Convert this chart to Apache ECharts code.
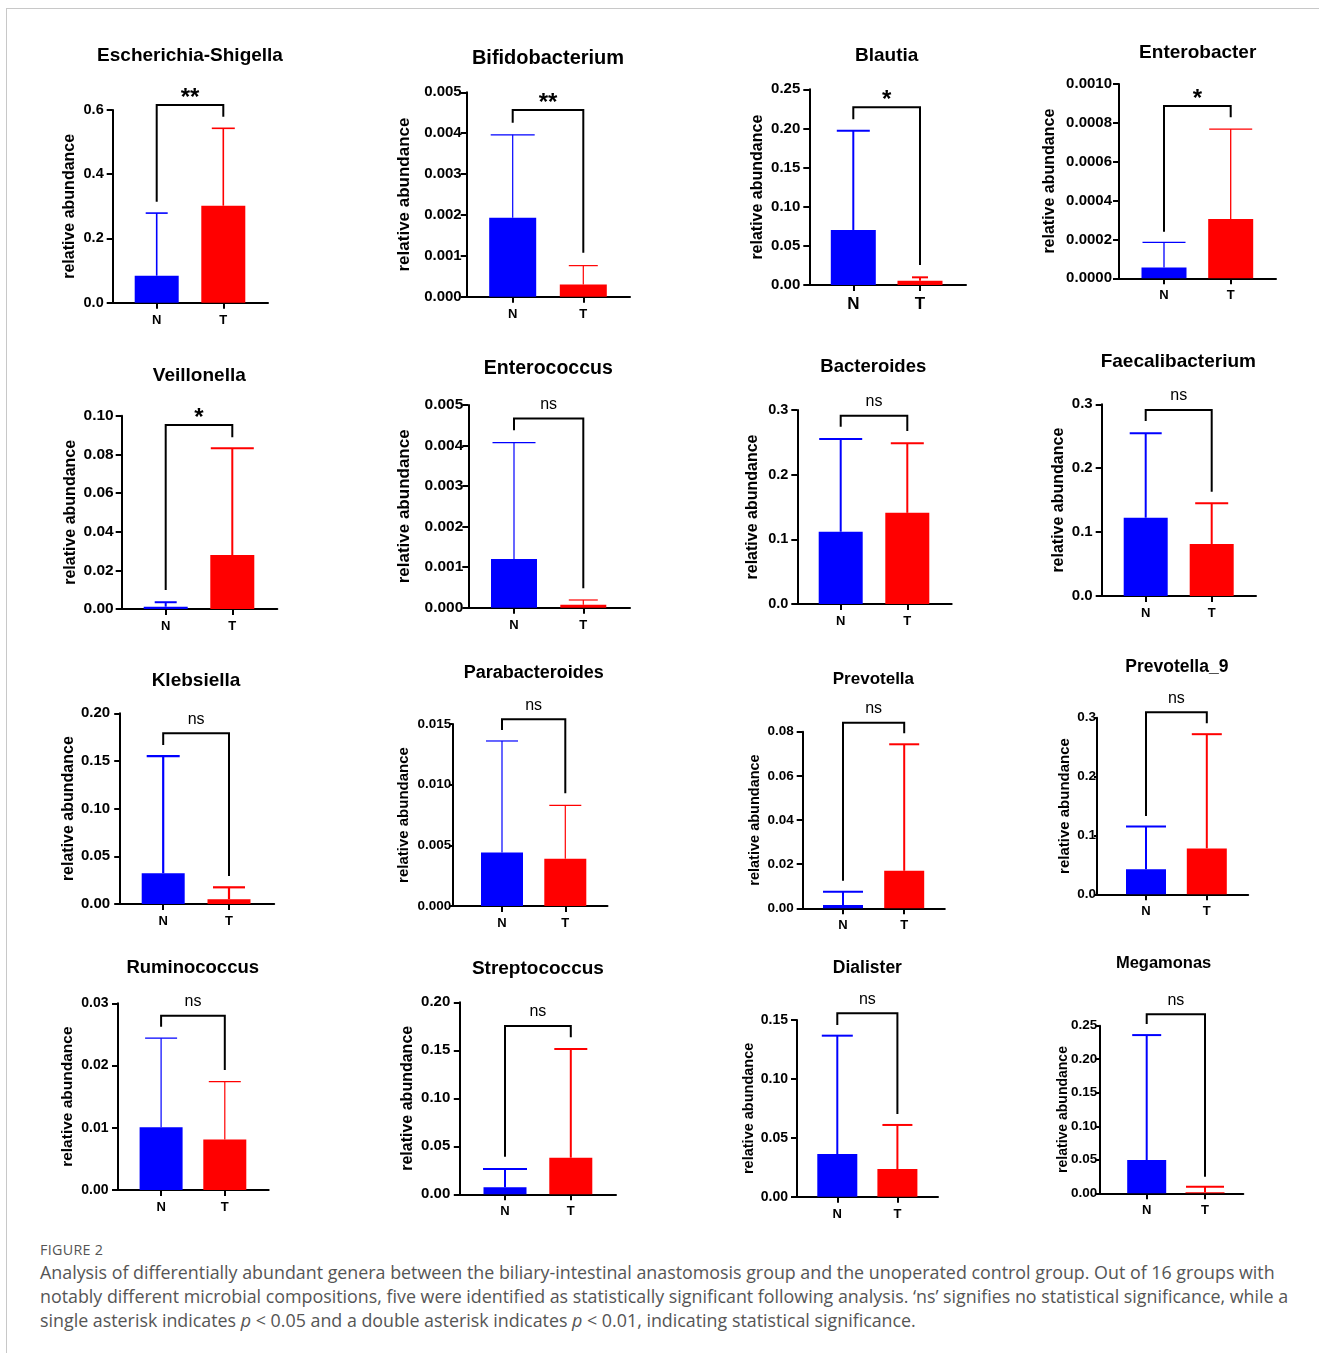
<!DOCTYPE html>
<html>
<head>
<meta charset="utf-8">
<script src="https://cdn.jsdelivr.net/npm/echarts@6/dist/echarts.min.js"></script>
<style>
	body { margin: 0; background: #fff; }
	#frame { position: absolute; left: 6px; top: 8px; width: 1313px; height: 1345px; border-top: 1px solid #c8c8c8; border-left: 1px solid #c8c8c8; }
	#main { position: absolute; left: 0; top: 0; width: 1319px; height: 1235px; }
	#figlabel { position: absolute; left: 40px; top: 1240px; font: 14.3px "Open Sans", sans-serif; color: #555; letter-spacing: 0.3px; }
	#caption { position: absolute; left: 40px; top: 1260px; font: 17.85px/24px "Open Sans", sans-serif; color: #555; white-space: nowrap; }
</style>
</head>
<body>
<div id="frame"></div>
<div id="main"></div>
<div id="figlabel">FIGURE 2</div>
<div id="caption">
	<div>Analysis of differentially abundant genera between the biliary-intestinal anastomosis group and the unoperated control group. Out of 16 groups with</div>
	<div>notably different microbial compositions, five were identified as statistically significant following analysis. ‘ns’ signifies no statistical significance, while a</div>
	<div>single asterisk indicates <i>p</i> &lt; 0.05 and a double asterisk indicates <i>p</i> &lt; 0.01, indicating statistical significance.</div>
</div>
<script>
	// ---- data ----
	var groups = ['N', 'T'];
	var genera = ['Escherichia-Shigella', 'Bifidobacterium', 'Blautia', 'Enterobacter',
		'Veillonella', 'Enterococcus', 'Bacteroides', 'Faecalibacterium',
		'Klebsiella', 'Parabacteroides', 'Prevotella', 'Prevotella_9',
		'Ruminococcus', 'Streptococcus', 'Dialister', 'Megamonas'];
	var nMean = [0.084, 0.00193, 0.0703, 0.000055, 0.0012, 0.0012, 0.1118, 0.1225,
		0.0322, 0.0044, 0.0015, 0.0425, 0.0101, 0.0073, 0.0362, 0.0497];
	var nSD = [0.195, 0.00203, 0.1267, 0.00013, 0.0023, 0.00287, 0.1432, 0.1321,
		0.1228, 0.0092, 0.006, 0.0725, 0.0143, 0.0191, 0.1005, 0.1863];
	var tMean = [0.302, 0.0003, 0.0055, 0.000305, 0.0279, 0.00007, 0.141, 0.0814,
		0.0049, 0.0039, 0.017, 0.078, 0.0081, 0.0381, 0.0235, 0.0015];
	var tSD = [0.241, 0.00046, 0.0043, 0.000463, 0.0552, 0.00012, 0.1075, 0.0636,
		0.0126, 0.0044, 0.0573, 0.194, 0.0093, 0.1133, 0.0374, 0.0083];
	var signif = ['**', '**', '*', '*', '*', 'ns', 'ns', 'ns',
		'ns', 'ns', 'ns', 'ns', 'ns', 'ns', 'ns', 'ns'];
	// y axis: max, step, decimals of tick labels
	var yMax = [0.6, 0.005, 0.25, 0.001, 0.1, 0.005, 0.3, 0.3, 0.2, 0.015, 0.08, 0.3, 0.03, 0.2, 0.15, 0.25];
	var yStep = [0.2, 0.001, 0.05, 0.0002, 0.02, 0.001, 0.1, 0.1, 0.05, 0.005, 0.02, 0.1, 0.01, 0.05, 0.05, 0.05];
	var yDec = [1, 3, 2, 4, 2, 3, 1, 1, 2, 3, 2, 1, 2, 2, 2, 2];

	// ---- layout (pixels) ----
	// plot box: y axis x, top tick y, x axis right end, zero y, N centre x, T centre x
	var box = [
		[112.7, 110, 268, 302.7, 156.7, 223.3], [466.7, 92.3, 630, 296.7, 512.7, 583.3],
		[809.3, 89.3, 966, 285, 853.3, 920], [1119, 84, 1276, 278.3, 1164, 1230.7],
		[121.7, 415.7, 277.3, 609, 165.7, 232.3], [468.3, 405, 630, 607.7, 514, 583.3],
		[797.3, 410, 951.7, 604, 840.7, 907.3], [1101.7, 404.3, 1256, 596, 1145.7, 1211.7],
		[120.2, 713.3, 274.2, 904, 163.2, 229], [452.7, 724, 607.5, 906, 502, 565.3],
		[802.7, 731.7, 944.8, 908.3, 843, 904.2], [1097, 717.7, 1248.2, 894.3, 1146, 1206.8],
		[118, 1003.3, 268.7, 1190, 161.1, 224.8], [459.8, 1002.3, 616, 1194.3, 505, 570.8],
		[797, 1020, 938, 1196.7, 837.3, 897.4], [1099.7, 1025.7, 1243.3, 1193.3, 1146.7, 1205]
	];
	// title centre x, centre y, font size
	var titlePos = [
		[190, 56, 19], [548, 58, 20], [886.7, 56, 19], [1197.7, 52.7, 19],
		[199.3, 376, 19], [548.3, 368.3, 19.5], [873.3, 366.7, 18.5], [1178.3, 361.7, 19],
		[196, 680.7, 19], [533.7, 673.3, 18], [873.4, 679, 17], [1176.8, 667.3, 17.5],
		[192.7, 968.3, 18.5], [537.9, 969, 19], [867.4, 968.3, 17.5], [1163.6, 963.3, 16.5]
	];
	// distance of axis name centre from y axis, name size, tick label size, tick label gap, x label size
	var nameDist = [44, 63, 52.6, 70, 52.4, 65, 45.6, 44.4, 52.8, 49.8, 48, 33, 50.6, 52.8, 48, 36.8];
	var nameSize = [16, 17, 16, 16, 16, 17, 16, 16, 16, 15, 14.5, 15, 15.5, 16, 14.5, 14];
	var tickSize = [14.5, 15, 15, 15, 15.5, 15.5, 14.5, 15, 15, 13.5, 13.5, 13.5, 14, 15, 14, 13.5];
	var tickGap = [9, 5, 9, 7, 8, 5, 9, 9, 10, 1.5, 9, 1, 9.5, 9.5, 9, 2.5];
	var catSize = [13, 13, 17, 13, 13, 13, 13, 13, 13, 13, 13, 13, 13, 13, 13, 13];
	// bar width, cap widths N/T, error line width
	var barW = [44, 47, 45, 45, 44, 46, 44, 44, 43, 42, 40, 40, 43, 43, 40, 39];
	var caps = [[22, 23], [44, 29], [33, 16], [43, 43], [22, 43], [43, 29], [43, 33], [32, 33],
		[33, 32], [32, 32], [40, 30], [40, 30], [32, 32], [44, 33], [31, 30], [29, 38]];
	var errW = [1.6, 1.2, 2, 1.3, 2, 1.2, 2, 2, 2.2, 1.2, 2, 2, 1.2, 2, 2, 2];
	// bracket (in axis units): top, left leg end, right leg end
	var bracket = [
		[0.6156, 0.3145, 0.579], [0.004567, 0.004256, 0.001076], [0.227, 0.2117, 0.0256], [0.000887, 0.00024, 0.000829],
		[0.0952, 0.0098, 0.0888], [0.00467, 0.00438, 0.00048], [0.2912, 0.2742, 0.2675], [0.2911, 0.2739, 0.1632],
		[0.179, 0.1668, 0.0294], [0.01539, 0.0145, 0.00929], [0.0841, 0.0125, 0.0793], [0.3092, 0.133, 0.2905],
		[0.028, 0.02624, 0.01928], [0.1753, 0.0392, 0.1635], [0.1557, 0.1458, 0.0702], [0.267, 0.2525, 0.0248]
	];

	var BLUE = '#0000ff', RED = '#ff0000';
	var FONT = '"Liberation Sans", Arial, sans-serif';

	function errRender(cw, lw) {
		return function (params, api) {
			var x = api.value(0), m = api.value(1), s = api.value(2);
			var p0 = api.coord([x, m]);
			var p1 = api.coord([x, m + s]);
			var w = cw[params.dataIndex];
			var c = params.dataIndex === 0 ? BLUE : RED;
			return {
				type: 'group',
				children: [
					{ type: 'line', shape: { x1: p0[0], y1: p0[1], x2: p1[0], y2: p1[1] }, style: { stroke: c, lineWidth: lw } },
					{ type: 'line', shape: { x1: p1[0] - w / 2, y1: p1[1], x2: p1[0] + w / 2, y2: p1[1] }, style: { stroke: c, lineWidth: lw } }
				]
			};
		};
	}

	function bracketRender(label) {
		return function (params, api) {
			var a = api.coord([api.value(0), api.value(3)]);
			var b = api.coord([api.value(0), api.value(2)]);
			var c = api.coord([api.value(1), api.value(2)]);
			var d = api.coord([api.value(1), api.value(4)]);
			var star = label !== 'ns';
			return {
				type: 'group',
				children: [
					{ type: 'polyline', shape: { points: [a, b, c, d] }, style: { stroke: '#000', lineWidth: 2, fill: null } },
					{
						type: 'text',
						x: (b[0] + c[0]) / 2,
						y: b[1] - (star ? 7 : 14),
						style: {
							text: label, align: 'center', verticalAlign: 'middle', fill: '#000',
							font: star ? 'bold 24px ' + FONT : '16px ' + FONT
						}
					}
				]
			};
		};
	}

	var option = { animation: false, title: [], grid: [], xAxis: [], yAxis: [], series: [] };

	for (var i = 0; i < genera.length; i++) {
		var L = box[i];
		var unit = L[5] - L[4];
		var xMin = 1 - (L[4] - L[0]) / unit;
		var xMax = 2 + (L[2] - L[5]) / unit;

		option.title.push({
			text: genera[i], left: titlePos[i][0], top: titlePos[i][1],
			textAlign: 'center', textVerticalAlign: 'middle', padding: 0,
			textStyle: { fontSize: titlePos[i][2], fontWeight: 'bold', color: '#000', fontFamily: FONT }
		});

		option.grid.push({ left: L[0], top: L[1], width: L[2] - L[0], height: L[3] - L[1], outerBoundsMode: 'none' });

		option.xAxis.push({
			gridIndex: i, type: 'value', min: xMin, max: xMax,
			axisLine: { onZero: false, lineStyle: { color: '#000', width: 2 } },
			axisTick: { show: true, customValues: [1, 2], length: 6, lineStyle: { color: '#000', width: 2 } },
			axisLabel: {
				customValues: [1, 2], margin: 11, color: '#000', fontWeight: 'bold', fontSize: catSize[i], fontFamily: FONT,
				formatter: function (v) { return groups[Math.round(v) - 1]; }
			},
			splitLine: { show: false }
		});

		option.yAxis.push({
			gridIndex: i, type: 'value', min: 0, max: yMax[i], interval: yStep[i],
			name: 'relative abundance', nameLocation: 'middle', nameRotate: 90,
			nameGap: nameDist[i] - nameSize[i] * 0.55, nameMoveOverlap: false,
			nameTextStyle: { fontSize: nameSize[i], fontWeight: 'bold', color: '#000', fontFamily: FONT },
			axisLine: { show: true, onZero: false, lineStyle: { color: '#000', width: 2 } },
			axisTick: { show: true, length: Math.min(6, tickGap[i] + 2), lineStyle: { color: '#000', width: 2 } },
			axisLabel: {
				margin: tickGap[i], color: '#000', fontWeight: 'bold', fontSize: tickSize[i], fontFamily: FONT,
				formatter: (function (dec) { return function (v) { return v.toFixed(dec); }; })(yDec[i])
			},
			splitLine: { show: false }
		});

		option.series.push({
			type: 'bar', xAxisIndex: i, yAxisIndex: i, barWidth: barW[i], silent: true,
			data: [[1, nMean[i]], [2, tMean[i]]],
			itemStyle: { color: function (p) { return p.dataIndex === 0 ? BLUE : RED; } }
		});

		option.series.push({
			type: 'custom', xAxisIndex: i, yAxisIndex: i, clip: false, silent: true, z: 3,
			data: [[1, nMean[i], nSD[i]], [2, tMean[i], tSD[i]]],
			renderItem: errRender(caps[i], errW[i])
		});

		option.series.push({
			type: 'custom', xAxisIndex: i, yAxisIndex: i, clip: false, silent: true, z: 4,
			encode: { x: [0, 1], y: [2, 3, 4] },
			data: [[1, 2, bracket[i][0], bracket[i][1], bracket[i][2]]],
			renderItem: bracketRender(signif[i])
		});
	}

	var myChart = echarts.init(document.getElementById('main'));
	myChart.setOption(option);
</script>
</body>
</html>
